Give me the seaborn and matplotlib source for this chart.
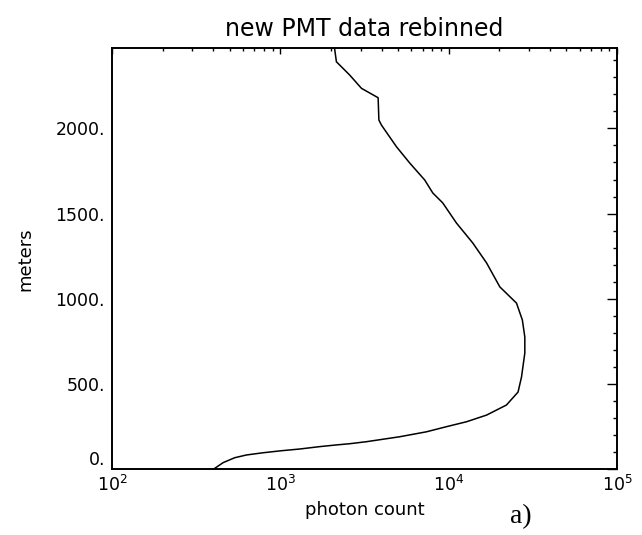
import matplotlib
matplotlib.use("Agg")
import matplotlib.pyplot as plt
import seaborn as sns
import pandas as pd
from matplotlib.ticker import FixedLocator, FixedFormatter, LogLocator, MultipleLocator, NullFormatter

# ---- data ----
meters = [0, 39, 68, 84, 97, 109, 119, 133, 143, 150, 162, 191, 220, 250, 279, 318,
          377, 453, 541, 682, 776, 876, 975, 1070, 1211, 1328, 1445, 1563, 1621,
          1697, 1797, 1892, 2019, 2049, 2180, 2235, 2313, 2391, 2470]
photon_count = [400, 457, 536, 629, 789, 1016, 1303, 1713, 2153, 2580, 3251, 5120,
                7380, 9700, 12770, 16790, 22030, 25830, 27080, 28340, 28340, 27400,
                25290, 20140, 16790, 13900, 11120, 9220, 8050, 7210, 5870, 4900,
                3990, 3850, 3810, 3034, 2583, 2153, 2100]

xtick_values = [1e2, 1e3, 1e4, 1e5]
xtick_labels = ["$10^{2}$", "$10^{3}$", "$10^{4}$", "$10^{5}$"]
ytick_values = [0, 500, 1000, 1500, 2000]
ytick_labels = ["0.", "500.", "1000.", "1500.", "2000."]

title = "new PMT data rebinned"
xlabel = "photon count"
ylabel = "meters"
panel_label = "a)"

df = pd.DataFrame({"photon count": photon_count, "meters": meters})

sns.set_style("white")
plt.rcParams["font.family"] = ["DejaVu Sans"]
plt.rcParams["mathtext.fontset"] = "dejavusans"

fig = plt.figure(figsize=(6.42, 5.35), dpi=100)
ax = fig.add_axes([112 / 642, 1 - 469.3 / 535, (617 - 112) / 642, (469.3 - 48.3) / 535])

sns.lineplot(data=df, x="photon count", y="meters", orient="y", estimator=None,
             color="black", linewidth=1.1, ax=ax)

ax.set_xscale("log")
ax.set_xlim(1e2, 1e5)
ax.set_ylim(0, 2470)

ax.xaxis.set_major_locator(FixedLocator(xtick_values))
ax.xaxis.set_major_formatter(FixedFormatter(xtick_labels))
ax.xaxis.set_minor_locator(LogLocator(base=10, subs=range(2, 10)))
ax.xaxis.set_minor_formatter(NullFormatter())
ax.yaxis.set_major_locator(FixedLocator(ytick_values))
ax.yaxis.set_major_formatter(FixedFormatter(ytick_labels))
ax.yaxis.set_minor_locator(MultipleLocator(100))

for s in ax.spines.values():
    s.set_visible(True)
    s.set_linewidth(1.4)
    s.set_color("black")

ax.tick_params(axis="both", which="both", direction="in", top=True, right=True,
               color="black", width=1.0, labelcolor="black")
ax.tick_params(axis="x", which="major", length=4.5, labelsize=12.5, pad=4)
ax.tick_params(axis="x", which="minor", length=2.2)
ax.tick_params(axis="y", which="major", length=7.2, labelsize=12.5, pad=5)
ax.tick_params(axis="y", which="minor", length=2.9)

ax.set_title(title, fontsize=17, pad=8.6, color="black")
ax.set_xlabel(xlabel, fontsize=13, labelpad=4, color="black")
ax.set_ylabel(ylabel, fontsize=13, color="black")
ax.yaxis.label.set_verticalalignment("center")
ax.yaxis.set_label_coords(-0.172, 0.5)

# the zero label sits just above the axis corner, as in the reference
fig.canvas.draw()
ax.get_yticklabels()[0].set_verticalalignment("bottom")

fig.text(510 / 642, 1 - 523 / 535, panel_label, fontsize=20,
         family="Liberation Serif", color="black", ha="left", va="baseline")

fig.savefig("out.png", dpi=100, facecolor="white")
